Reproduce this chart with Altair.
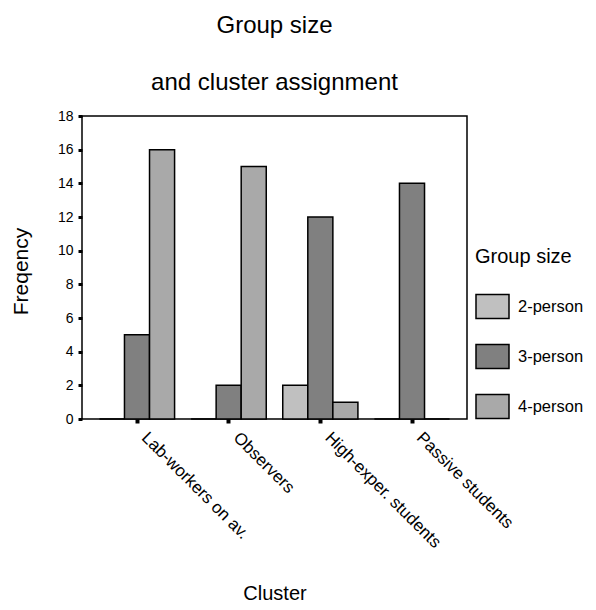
import altair as alt
import pandas as pd

clusters = ["Lab-workers on av.", "Observers", "High-exper. students", "Passive students"]
groups = ["2-person", "3-person", "4-person"]
two_person = [0, 0, 2, 0]
three_person = [5, 2, 12, 14]
four_person = [16, 15, 1, 0]
colors = ["#c0c0c0", "#808080", "#a9a9a9"]

rows = []
for i, c in enumerate(clusters):
    for g, vals in zip(groups, [two_person, three_person, four_person]):
        rows.append({"Cluster": c, "Group size": g, "Frequency": vals[i]})
df = pd.DataFrame(rows)

FONT = "Liberation Sans"

chart = alt.Chart(df).mark_bar(stroke="black", strokeWidth=1.5).encode(
    x=alt.X("Cluster:N", sort=clusters,
            scale=alt.Scale(paddingInner=0.18, paddingOuter=0.19),
            axis=alt.Axis(title="Cluster", labelAngle=45, labelAlign="left",
                          labelBaseline="top", labelPadding=6, labelOffset=13,
                          labelFontSize=17, tickSize=4, tickWidth=4,
                          tickColor="black", domain=False, labelLimit=300,
                          titleFontSize=20, titleFontWeight="normal",
                          titleY=180, titleBaseline="alphabetic")),
    xOffset=alt.XOffset("Group size:N", sort=groups, scale=alt.Scale(paddingInner=0, paddingOuter=0)),
    y=alt.Y("Frequency:Q", scale=alt.Scale(domain=[0, 18], nice=False),
            axis=alt.Axis(title="Freqency", values=list(range(0, 19, 2)),
                          grid=False, domain=False, tickSize=4, tickWidth=3,
                          tickColor="black", labelFontSize=14, labelPadding=5,
                          titleFontSize=21, titleFontWeight="normal",
                          titleX=-61, titleY=155, titleBaseline="middle")),
    fill=alt.Fill("Group size:N", sort=groups,
                  scale=alt.Scale(domain=groups, range=colors),
                  legend=alt.Legend(title="Group size", orient="none",
                                    legendX=393, legendY=131,
                                    symbolType="M-1,-0.727L1,-0.727L1,0.727L-1,0.727Z",
                                    symbolSize=1089, symbolStrokeColor="black",
                                    symbolStrokeWidth=1.5, symbolOpacity=1,
                                    labelFontSize=16.5, labelOffset=8,
                                    titleFontSize=20, titleFontWeight="normal",
                                    titlePadding=22, rowPadding=17, padding=0)),
).properties(
    width=385, height=303,
    title=alt.Title(["Group size", "and cluster assignment"], fontSize=24,
                    fontWeight="normal", lineHeight=57, anchor="middle", offset=14),
    autosize=alt.AutoSizeParams(type="none"),
    padding={"left": 74, "top": 108, "right": 121, "bottom": 183},
).configure(
    font=FONT,
).configure_view(
    stroke="black", strokeWidth=1.5
).configure_axis(
    labelColor="black", titleColor="black", labelFont=FONT, titleFont=FONT
).configure_legend(
    labelColor="black", titleColor="black", labelFont=FONT, titleFont=FONT
).configure_title(
    color="black", font=FONT
)

chart.save("out.html", embed_options={"renderer": "svg", "actions": False})
